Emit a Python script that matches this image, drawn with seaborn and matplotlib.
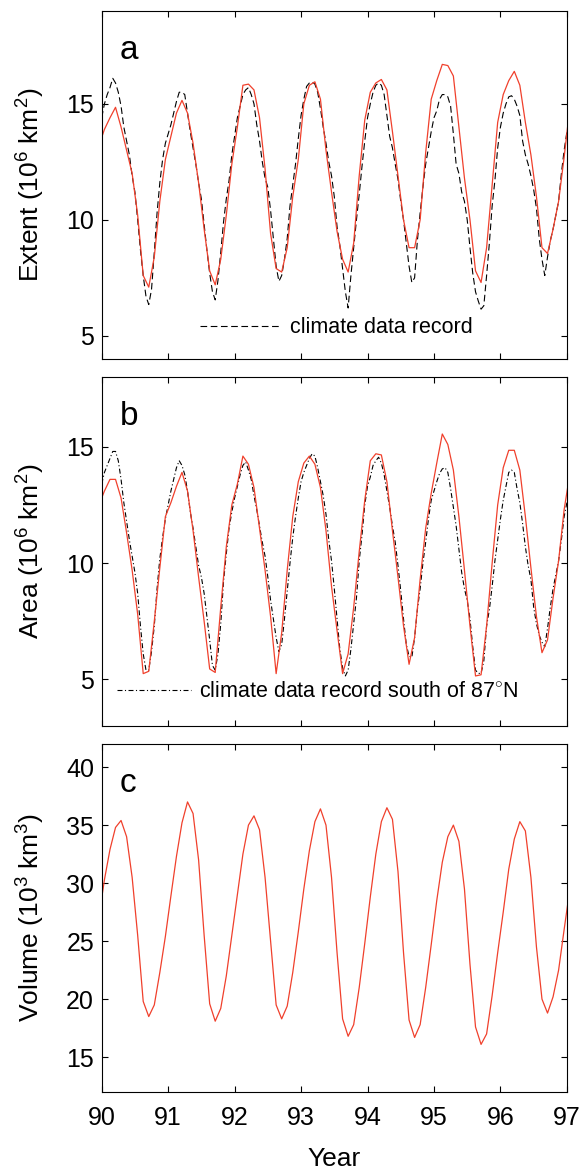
import numpy as np
import pandas as pd
import matplotlib
matplotlib.use('Agg')
import matplotlib.pyplot as plt
import seaborn as sns

# model values are monthly means (mid-month), Dec 1989 .. Jan 1997
extent_model = [13.2,
    13.9, 14.4, 14.85, 14.0, 13.0, 12.0, 10.2, 7.6, 7.1, 8.4, 10.8, 12.6,
    13.6, 14.6, 15.15, 14.6, 13.3, 11.6, 9.6, 7.8, 7.2, 8.3, 10.2, 12.4,
    14.0, 15.8, 15.85, 15.6, 14.4, 12.2, 9.4, 7.9, 7.75, 8.8, 11.0, 12.6,
    15.0, 15.8, 15.95, 15.2, 13.0, 11.2, 9.5, 8.3, 7.75, 9.0, 11.9, 14.3,
    15.5, 15.9, 16.05, 15.6, 13.8, 11.9, 10.0, 8.8, 8.8, 10.0, 12.9, 15.2,
    16.0, 16.7, 16.65, 16.2, 14.0, 11.8, 10.0, 7.8, 7.3, 8.8, 11.5, 14.2,
    15.4, 16.0, 16.4, 15.8, 14.2, 12.8, 11.0, 8.8, 8.55, 9.6, 10.8, 12.7,
    14.8]

area_model = [12.5,
    13.1, 13.6, 13.6, 12.8, 11.3, 9.7, 7.8, 5.25, 5.35, 7.5, 9.8, 12.0,
    12.6, 13.3, 13.9, 13.1, 11.4, 9.4, 7.5, 5.45, 5.3, 8.1, 10.7, 12.5,
    13.4, 14.6, 14.25, 13.25, 11.5, 9.7, 7.7, 5.25, 7.0, 9.7, 12.0, 13.5,
    14.3, 14.6, 14.25, 13.25, 11.4, 9.0, 7.1, 5.25, 6.1, 8.1, 10.5, 12.7,
    14.4, 14.7, 14.65, 13.5, 11.4, 9.4, 7.3, 5.65, 6.8, 9.3, 11.5, 13.0,
    14.3, 15.55, 15.1, 14.0, 12.0, 9.7, 7.3, 5.15, 5.2, 7.3, 10.0, 12.5,
    14.1, 14.85, 14.85, 14.0, 12.0, 9.8, 7.7, 6.15, 6.7, 8.5, 10.1, 12.3,
    13.8]

volume_model = [27.1,
    30.3, 32.9, 34.8, 35.4, 34.0, 30.5, 25.5, 19.8, 18.5, 19.5, 22.3, 25.4,
    28.9, 32.3, 35.2, 37.0, 36.0, 32.0, 25.5, 19.6, 18.1, 19.2, 22.0, 25.5,
    29.0, 32.5, 35.0, 35.8, 34.6, 30.5, 25.0, 19.5, 18.3, 19.4, 22.3, 25.8,
    29.5, 32.8, 35.3, 36.4, 35.0, 30.5, 24.0, 18.3, 16.8, 17.8, 21.0, 24.8,
    28.8, 32.5, 35.3, 36.5, 35.5, 31.0, 24.0, 18.2, 16.7, 17.8, 21.0, 24.7,
    28.5, 31.8, 34.0, 35.0, 33.6, 29.5, 23.0, 17.6, 16.1, 17.0, 20.3, 24.0,
    27.5, 31.2, 33.8, 35.3, 34.5, 30.5, 24.5, 20.0, 18.8, 20.2, 22.5, 26.0,
    29.4]

# climate data record, twice a month, Jan 1990 .. Jan 1997
extent_obs = [
    14.4, 15.0, 15.4, 15.7, 16.1, 15.9, 15.5, 14.9, 14.0, 13.4, 12.8, 11.9,
    11.2, 10.0, 8.7, 7.6, 6.7, 6.35, 7.0, 8.6, 10.3, 11.6, 12.6, 13.3,
    13.7, 14.1, 14.6, 15.1, 15.5, 15.5, 15.4, 14.6, 13.8, 13.1, 12.4, 11.6,
    10.9, 9.8, 8.7, 7.7, 6.9, 6.55, 7.4, 8.6, 9.9, 10.9, 11.7, 12.8,
    13.6, 14.4, 14.9, 15.4, 15.6, 15.7, 15.4, 15.0, 14.1, 13.4, 12.5, 11.8,
    11.4, 10.4, 9.2, 8.0, 7.35, 7.6, 8.3, 9.2, 10.6, 11.5, 12.4, 13.5,
    14.5, 15.2, 15.75, 15.9, 15.95, 15.85, 15.5, 14.8, 14.0, 13.3, 12.5, 11.9,
    11.0, 9.7, 8.9, 7.9, 6.9, 6.2, 7.6, 8.8, 10.0, 11.1, 12.3, 13.4,
    14.4, 15.0, 15.5, 15.8, 15.9, 15.8, 15.4, 14.5, 13.6, 13.1, 12.4, 11.75,
    10.8, 10.0, 9.0, 8.0, 7.3, 7.5, 9.1, 10.3, 11.4, 12.4, 13.1, 13.8,
    14.4, 14.7, 15.2, 15.4, 15.4, 15.3, 14.9, 13.7, 12.4, 12.0, 11.2, 10.8,
    10.0, 8.8, 7.7, 6.9, 6.5, 6.15, 6.3, 7.6, 9.0, 10.6, 11.7, 13.1,
    14.0, 14.6, 15.0, 15.3, 15.35, 15.2, 14.9, 14.5, 13.4, 12.8, 12.4, 11.9,
    11.3, 10.5, 9.2, 8.3, 7.6, 8.4, 9.1, 9.6, 10.2, 10.8, 12.0, 13.0,
    13.8]

area_obs = [
    13.4, 13.9, 14.2, 14.5, 14.8, 14.8, 14.4, 13.6, 12.6, 11.8, 11.0, 10.3,
    9.6, 8.7, 7.3, 6.1, 5.4, 5.4, 6.2, 7.3, 8.9, 10.2, 11.1, 11.9,
    12.5, 13.1, 13.6, 14.1, 14.4, 14.2, 13.8, 13.1, 12.2, 11.5, 10.7, 9.9,
    9.4, 8.7, 7.7, 6.7, 5.6, 5.4, 6.1, 7.4, 9.2, 10.4, 11.5, 12.2,
    12.8, 13.3, 13.8, 14.2, 14.35, 14.0, 13.6, 12.9, 12.3, 11.6, 10.9, 10.3,
    9.4, 8.4, 7.6, 6.8, 6.2, 6.5, 7.6, 8.8, 10.0, 11.1, 12.0, 12.8,
    13.5, 13.9, 14.2, 14.5, 14.7, 14.6, 14.1, 13.5, 12.9, 12.1, 11.0, 10.1,
    8.9, 7.6, 6.3, 5.5, 5.15, 5.4, 6.3, 7.4, 8.5, 10.1, 11.2, 12.5,
    13.3, 13.7, 14.2, 14.4, 14.55, 14.3, 13.8, 13.1, 12.4, 11.6, 10.9, 9.9,
    8.8, 7.6, 6.5, 6.0, 5.95, 6.8, 8.0, 8.9, 10.0, 10.9, 11.9, 12.7,
    13.1, 13.5, 13.85, 14.05, 14.1, 13.9, 13.2, 12.4, 11.6, 10.6, 9.6, 8.9,
    8.4, 7.6, 6.4, 5.4, 5.26, 5.26, 5.8, 7.3, 8.0, 9.0, 10.1, 11.0,
    11.9, 12.7, 13.3, 13.9, 14.0, 13.9, 13.2, 12.6, 11.7, 10.7, 9.9, 9.3,
    8.1, 7.4, 6.9, 6.6, 6.4, 7.2, 8.1, 8.9, 9.5, 10.1, 11.0, 12.0,
    12.6]

model_time = 90 + (np.arange(-1, 85) + 0.5) / 12
obs_time = 90 + np.arange(169) / 24

year_ticks = [90, 91, 92, 93, 94, 95, 96, 97]
red = '#f0402c'

sns.set_style('ticks')
plt.rcParams['font.family'] = ['Liberation Sans', 'DejaVu Sans']
plt.rcParams['mathtext.fontset'] = 'custom'
plt.rcParams['mathtext.rm'] = 'Liberation Sans'
plt.rcParams['mathtext.it'] = 'Liberation Sans:italic'
plt.rcParams['text.color'] = 'black'
plt.rcParams['axes.labelcolor'] = 'black'
plt.rcParams['axes.edgecolor'] = 'black'
plt.rcParams['axes.linewidth'] = 0.8
plt.rcParams['xtick.direction'] = 'in'
plt.rcParams['ytick.direction'] = 'in'

fig = plt.figure(figsize=(5.83, 11.73), dpi=100)
ax_a = fig.add_axes([0.1744, 0.6939, 0.798, 0.2967])
ax_b = fig.add_axes([0.1744, 0.3811, 0.798, 0.2975])
ax_c = fig.add_axes([0.1744, 0.0691, 0.798, 0.2967])

df_model = pd.DataFrame({'time': model_time, 'extent': extent_model,
                         'area': area_model, 'volume': volume_model})
df_obs = pd.DataFrame({'time': obs_time, 'extent': extent_obs, 'area': area_obs})

# panel a
sns.lineplot(data=df_obs, x='time', y='extent', ax=ax_a, color='black', lw=0.8,
             linestyle=(0, (6, 3.2)), label='climate data record', sort=False, estimator=None)
sns.lineplot(data=df_model, x='time', y='extent', ax=ax_a, color=red, lw=0.9,
             sort=False, estimator=None)
ax_a.set_ylim(4, 19)
ax_a.set_yticks([5, 10, 15])
ax_a.set_ylabel('Extent (10$^6$ km$^2$)')
ax_a.legend(loc='center left', bbox_to_anchor=(0.212, 0.09), frameon=False,
            fontsize=15.5, handlelength=3.7, handletextpad=0.45, borderpad=0, borderaxespad=0)

# panel b
sns.lineplot(data=df_obs, x='time', y='area', ax=ax_b, color='black', lw=0.8,
             linestyle=(0, (4.5, 2.2, 1, 2.2)), label=r'climate data record south of 87$^{\circ}$N',
             sort=False, estimator=None)
sns.lineplot(data=df_model, x='time', y='area', ax=ax_b, color=red, lw=0.9,
             sort=False, estimator=None)
ax_b.set_ylim(3, 18)
ax_b.set_yticks([5, 10, 15])
ax_b.set_ylabel('Area (10$^6$ km$^2$)')
ax_b.legend(loc='center left', bbox_to_anchor=(0.032, 0.098), frameon=False,
            fontsize=15.5, handlelength=3.45, handletextpad=0.36, borderpad=0, borderaxespad=0)

# panel c
sns.lineplot(data=df_model, x='time', y='volume', ax=ax_c, color=red, lw=0.9,
             sort=False, estimator=None)
ax_c.set_ylim(12, 42)
ax_c.set_yticks([15, 20, 25, 30, 35, 40])
ax_c.set_ylabel('Volume (10$^3$ km$^3$)')
ax_c.set_xlabel('Year', fontsize=19)
ax_c.xaxis.set_label_coords(0.5, -0.158)

for ax, letter in zip([ax_a, ax_b, ax_c], ['a', 'b', 'c']):
    ax.set_xlim(90, 97)
    ax.set_xticks(year_ticks)
    ax.tick_params(top=True, right=True, length=4, width=0.8, labelsize=18,
                   color='black', labelcolor='black')
    ax.tick_params(axis='x', pad=10)
    ax.tick_params(axis='y', pad=5.5)
    ax.yaxis.label.set_size(19)
    ax.yaxis.set_label_coords(-0.118, 0.5)
    for s in ax.spines.values():
        s.set_color('black')
        s.set_visible(True)
    ax.text(0.039, 0.862, letter, transform=ax.transAxes, fontsize=24,
            ha='left', va='baseline')
    if ax is not ax_c:
        ax.set_xlabel('')
        ax.tick_params(axis='x', labelbottom=False)

fig.savefig('out.png', dpi=100)
